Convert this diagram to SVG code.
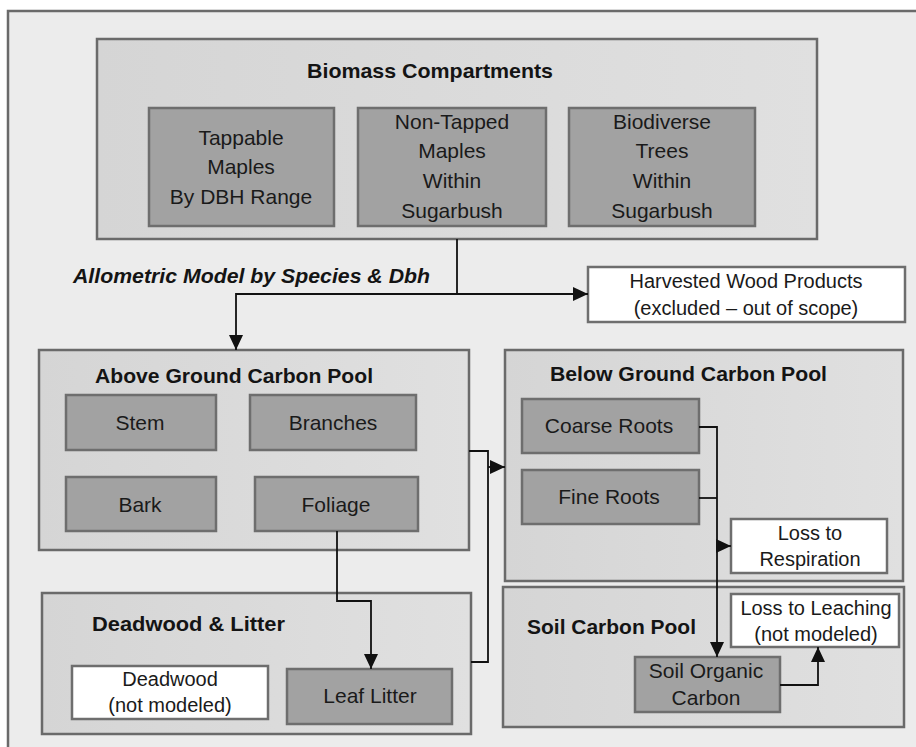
<svg xmlns="http://www.w3.org/2000/svg" width="916" height="747" viewBox="0 0 916 747">
<defs>
<linearGradient id="gpool" x1="0" y1="0" x2="1" y2="0">
<stop offset="0" stop-color="#d5d5d5"/>
<stop offset="1" stop-color="#e0e0e0"/>
</linearGradient>
<marker id="arr" markerUnits="userSpaceOnUse" markerWidth="16" markerHeight="16" viewBox="0 0 16 16" refX="15" refY="8" orient="auto">
<path d="M0,1 L15,8 L0,15 Z" fill="#111"/>
</marker>
</defs>
<style>
.pool{fill:url(#gpool);stroke:#6a6a6a;stroke-width:2.5}
.item{fill:#a2a2a2;stroke:#6e6e6e;stroke-width:2.5}
.ext{fill:#fff;stroke:#6e6e6e;stroke-width:2.5}
.title{font-family:"Liberation Sans",Arial,sans-serif;font-weight:bold;font-size:21px;fill:#141414}
.t{font-family:"Liberation Sans",Arial,sans-serif;font-size:21px;fill:#1a1a1a;text-anchor:middle}
.s{font-family:"Liberation Sans",Arial,sans-serif;font-size:20px;fill:#1a1a1a;text-anchor:middle}
.con{fill:none;stroke:#111;stroke-width:1.8}
</style>
<rect x="0" y="0" width="916" height="747" fill="#ffffff"/>
<rect id="frame" x="8" y="11" width="920" height="760" fill="#ececec" stroke="#6a6a6a" stroke-width="2.5"/>

<g id="biomass">
<rect class="pool" x="97" y="39" width="720" height="200"/>
<text class="title" x="307" y="78" textLength="246" lengthAdjust="spacingAndGlyphs">Biomass Compartments</text>
</g>
<g id="tappable">
<rect class="item" x="149" y="108" width="185" height="118"/>
<text class="t" x="241" y="145">Tappable</text>
<text class="t" x="241" y="174">Maples</text>
<text class="t" x="241" y="204">By DBH Range</text>
</g>
<g id="nontapped">
<rect class="item" x="358" y="108" width="188" height="118"/>
<text class="t" x="452" y="129">Non-Tapped</text>
<text class="t" x="452" y="158">Maples</text>
<text class="t" x="452" y="188">Within</text>
<text class="t" x="452" y="218">Sugarbush</text>
</g>
<g id="biodiverse">
<rect class="item" x="569" y="108" width="186" height="118"/>
<text class="t" x="662" y="129">Biodiverse</text>
<text class="t" x="662" y="158">Trees</text>
<text class="t" x="662" y="188">Within</text>
<text class="t" x="662" y="218">Sugarbush</text>
</g>

<text id="allometric" x="73" y="283" font-family="Liberation Sans, Arial, sans-serif" font-weight="bold" font-style="italic" font-size="21" fill="#141414" textLength="357" lengthAdjust="spacingAndGlyphs">Allometric Model by Species &amp; Dbh</text>

<g id="harvested">
<rect class="ext" x="588" y="267" width="317" height="55"/>
<text class="s" x="746" y="288">Harvested Wood Products</text>
<text class="s" x="746" y="315">(excluded – out of scope)</text>
</g>

<g id="above">
<rect class="pool" x="39" y="350" width="430" height="200"/>
<text class="title" x="95" y="383" textLength="278" lengthAdjust="spacingAndGlyphs">Above Ground Carbon Pool</text>
</g>
<g id="stem">
<rect class="item" x="66" y="395" width="150" height="55"/>
<text class="t" x="140" y="430">Stem</text>
</g>
<g id="branches">
<rect class="item" x="250" y="395" width="166" height="55"/>
<text class="t" x="333" y="430">Branches</text>
</g>
<g id="bark">
<rect class="item" x="66" y="477" width="150" height="54"/>
<text class="t" x="140" y="512">Bark</text>
</g>
<g id="foliage">
<rect class="item" x="255" y="477" width="163" height="54"/>
<text class="t" x="336" y="512">Foliage</text>
</g>

<g id="deadlitter">
<rect class="pool" x="42" y="593" width="429" height="141"/>
<text class="title" x="92" y="631" textLength="193" lengthAdjust="spacingAndGlyphs">Deadwood &amp; Litter</text>
</g>
<g id="deadwood">
<rect class="ext" x="72" y="666" width="196" height="53"/>
<text class="s" x="170" y="686">Deadwood</text>
<text class="s" x="170" y="712">(not modeled)</text>
</g>
<g id="leaflitter">
<rect class="item" x="287" y="669" width="165" height="55"/>
<text class="t" x="370" y="703">Leaf Litter</text>
</g>

<g id="below">
<rect class="pool" x="505" y="350" width="398" height="231"/>
<text class="title" x="550" y="381" textLength="277" lengthAdjust="spacingAndGlyphs">Below Ground Carbon Pool</text>
</g>
<g id="coarse">
<rect class="item" x="522" y="399" width="177" height="54"/>
<text class="t" x="609" y="433">Coarse Roots</text>
</g>
<g id="fine">
<rect class="item" x="522" y="470" width="177" height="54"/>
<text class="t" x="609" y="504">Fine Roots</text>
</g>
<g id="respiration">
<rect class="ext" x="731" y="519" width="156" height="54"/>
<text class="s" x="810" y="540">Loss to</text>
<text class="s" x="810" y="566">Respiration</text>
</g>

<g id="soil">
<rect class="pool" x="503" y="587" width="401" height="140"/>
<text class="title" x="527" y="634" textLength="169" lengthAdjust="spacingAndGlyphs">Soil Carbon Pool</text>
</g>
<g id="leaching">
<rect class="ext" x="731" y="594" width="168" height="53"/>
<text class="s" x="816" y="615">Loss to Leaching</text>
<text class="s" x="816" y="641">(not modeled)</text>
</g>
<g id="soc">
<rect class="item" x="635" y="657" width="145" height="55"/>
<text class="t" x="706" y="678">Soil Organic</text>
<text class="t" x="706" y="705">Carbon</text>
</g>

<g id="connectors">
<path class="con" d="M457,239 V294"/>
<path class="con" d="M457,294 H588" marker-end="url(#arr)"/>
<path class="con" d="M457,294 H236 V350" marker-end="url(#arr)"/>
<path class="con" d="M337,531 V601 H371 V669" marker-end="url(#arr)"/>
<path class="con" d="M469,451 H488 V662 H471"/>
<path class="con" d="M488,467 H505" marker-end="url(#arr)"/>
<path class="con" d="M699,427 H717 V657" marker-end="url(#arr)"/>
<path class="con" d="M699,498 H717"/>
<path class="con" d="M717,546 H731" marker-end="url(#arr)"/>
<path class="con" d="M780,685 H818 V647" marker-end="url(#arr)"/>
</g>
</svg>
